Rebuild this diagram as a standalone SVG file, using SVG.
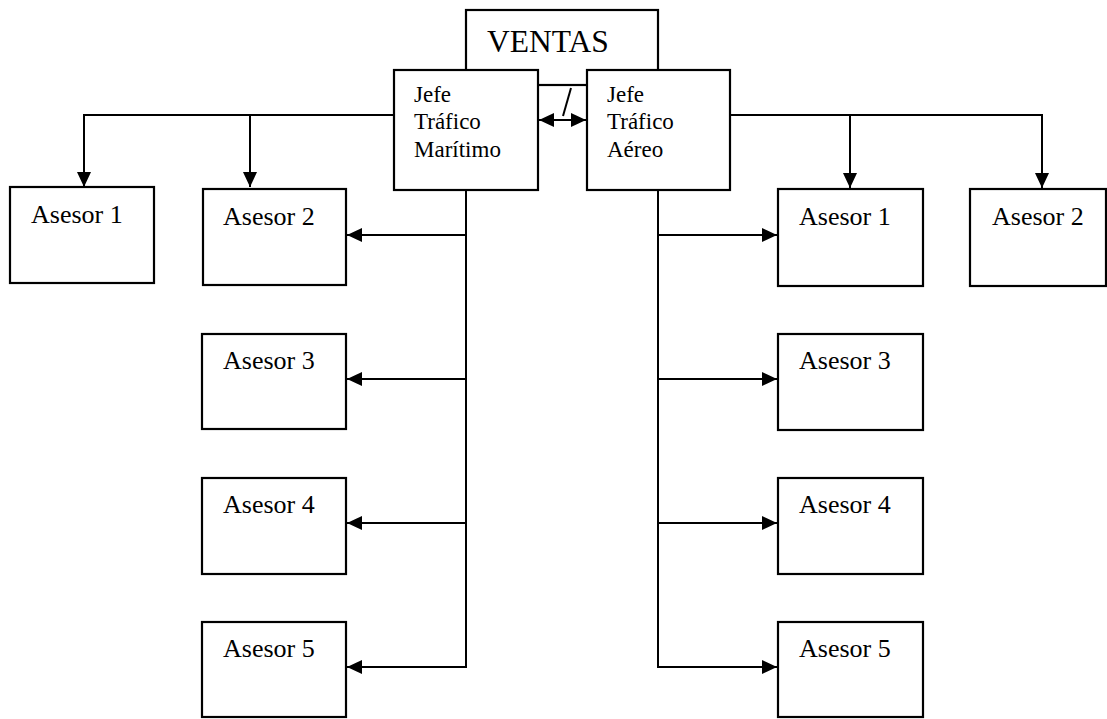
<svg xmlns="http://www.w3.org/2000/svg" width="1107" height="719" viewBox="0 0 1107 719">
<defs>
<marker id="ah" viewBox="0 0 15 14" refX="15" refY="7" markerWidth="15" markerHeight="14" markerUnits="userSpaceOnUse" orient="auto-start-reverse">
<path d="M0,0 L15,7 L0,14 Z" fill="#000"/>
</marker>
<style>
.box{fill:#fff;stroke:#000;stroke-width:2.2}
.ln{fill:none;stroke:#000;stroke-width:2}
.t{font-family:"Liberation Serif","Times New Roman",serif;fill:#000}
.a{font-size:26px}
.j{font-size:23px}
.v{font-size:31.5px}
</style>
</defs>
<rect width="1107" height="719" fill="#fff"/>
<g id="ventas">
<rect class="box" x="466" y="10" width="192" height="75"/>
<text class="t v" x="487" y="52">VENTAS</text>
</g>
<g id="jefe-maritimo">
<rect class="box" x="394" y="70" width="144" height="120"/>
<text class="t j" x="414" y="102">Jefe</text>
<text class="t j" x="414" y="129">Tráfico</text>
<text class="t j" x="414" y="157">Marítimo</text>
</g>
<g id="jefe-aereo">
<rect class="box" x="587" y="70" width="143" height="120"/>
<text class="t j" x="607" y="102">Jefe</text>
<text class="t j" x="607" y="129">Tráfico</text>
<text class="t j" x="607" y="157">Aéreo</text>
</g>
<g id="connectors">
<line class="ln" x1="539" y1="120" x2="586" y2="120" marker-start="url(#ah)" marker-end="url(#ah)"/>
<line class="ln" x1="563" y1="116" x2="571" y2="88"/>
<polyline class="ln" points="394,115 84,115 84,187" marker-end="url(#ah)"/>
<line class="ln" x1="250" y1="115" x2="250" y2="187" marker-end="url(#ah)"/>
<polyline class="ln" points="730,115 1042,115 1042,188" marker-end="url(#ah)"/>
<line class="ln" x1="850" y1="115" x2="850" y2="188" marker-end="url(#ah)"/>
<polyline class="ln" points="466,190 466,667 347,667" marker-end="url(#ah)"/>
<line class="ln" x1="466" y1="235" x2="347" y2="235" marker-end="url(#ah)"/>
<line class="ln" x1="466" y1="379" x2="347" y2="379" marker-end="url(#ah)"/>
<line class="ln" x1="466" y1="523" x2="347" y2="523" marker-end="url(#ah)"/>
<polyline class="ln" points="658,190 658,667 777,667" marker-end="url(#ah)"/>
<line class="ln" x1="658" y1="235" x2="777" y2="235" marker-end="url(#ah)"/>
<line class="ln" x1="658" y1="379" x2="777" y2="379" marker-end="url(#ah)"/>
<line class="ln" x1="658" y1="523" x2="777" y2="523" marker-end="url(#ah)"/>
</g>
<g id="m-asesor1">
<rect class="box" x="10" y="187" width="144" height="96"/>
<text class="t a" x="31" y="223">Asesor 1</text>
</g>
<g id="m-asesor2">
<rect class="box" x="203" y="189" width="143" height="96"/>
<text class="t a" x="223" y="225">Asesor 2</text>
</g>
<g id="m-asesor3">
<rect class="box" x="202" y="334" width="144" height="95"/>
<text class="t a" x="223" y="369">Asesor 3</text>
</g>
<g id="m-asesor4">
<rect class="box" x="202" y="478" width="144" height="96"/>
<text class="t a" x="223" y="513">Asesor 4</text>
</g>
<g id="m-asesor5">
<rect class="box" x="202" y="622" width="144" height="95"/>
<text class="t a" x="223" y="657">Asesor 5</text>
</g>
<g id="a-asesor1">
<rect class="box" x="778" y="189" width="145" height="97"/>
<text class="t a" x="799" y="225">Asesor 1</text>
</g>
<g id="a-asesor2">
<rect class="box" x="970" y="189" width="136" height="97"/>
<text class="t a" x="992" y="225">Asesor 2</text>
</g>
<g id="a-asesor3">
<rect class="box" x="778" y="334" width="145" height="96"/>
<text class="t a" x="799" y="369">Asesor 3</text>
</g>
<g id="a-asesor4">
<rect class="box" x="778" y="478" width="145" height="96"/>
<text class="t a" x="799" y="513">Asesor 4</text>
</g>
<g id="a-asesor5">
<rect class="box" x="778" y="622" width="145" height="95"/>
<text class="t a" x="799" y="657">Asesor 5</text>
</g>
</svg>
